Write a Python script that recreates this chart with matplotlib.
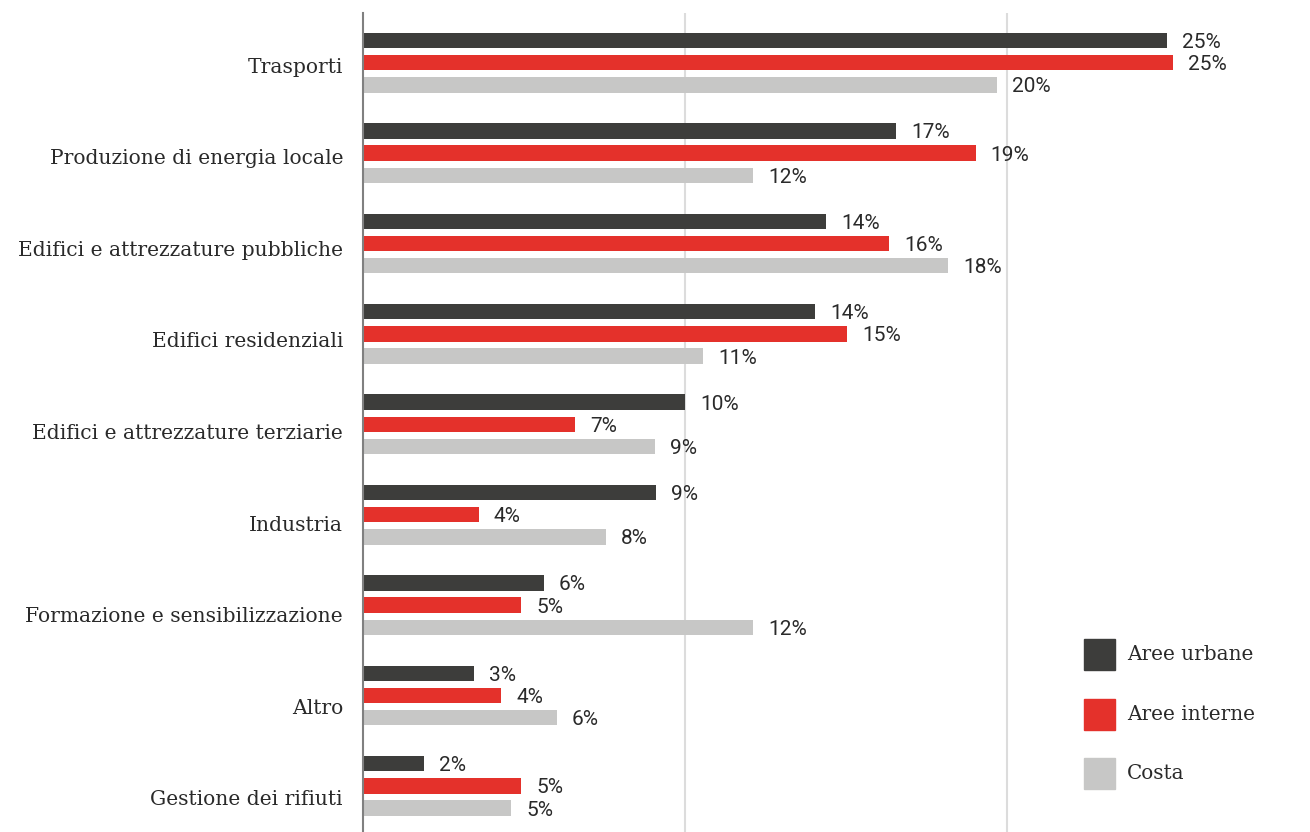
import matplotlib
matplotlib.use("Agg")
import matplotlib.pyplot as plt
from matplotlib.patches import Rectangle

# --- data -----------------------------------------------------------------
categories = [
    "Trasporti",
    "Produzione di energia locale",
    "Edifici e attrezzature pubbliche",
    "Edifici residenziali",
    "Edifici e attrezzature terziarie",
    "Industria",
    "Formazione e sensibilizzazione",
    "Altro",
    "Gestione dei rifiuti",
]
series_names = ["Aree urbane", "Aree interne", "Costa"]
aree_urbane = [24.98, 16.55, 14.38, 14.04, 10.0, 9.1, 5.62, 3.44, 1.9]
aree_interne = [25.16, 19.03, 16.34, 15.03, 6.58, 3.6, 4.91, 4.29, 4.91]
costa = [19.68, 12.11, 18.17, 10.56, 9.07, 7.55, 12.11, 6.02, 4.6]
series_values = [aree_urbane, aree_interne, costa]
series_colors = ["#3d3d3b", "#e4312b", "#c7c7c6"]
grid_ticks = [10, 20]

# --- layout ---------------------------------------------------------------
W, H = 1310, 832
ax_left_px, ax_top_px = 363, 13
px_per_unit = 32.2          # pixels per percentage point
group_px = 90.4             # vertical pitch between categories
bar_step = 22.2 / group_px  # pitch between bars within a group
bar_h = 15.5 / group_px

serif = ["DejaVu Serif"]
sans = ["Roboto", "DejaVu Sans"]
text_color = "#2a2a2a"

fig = plt.figure(figsize=(W / 100, H / 100), dpi=100)
ax = fig.add_axes([ax_left_px / W, 0, (W - ax_left_px) / W, (H - ax_top_px) / H])
ax.set_xlim(0, (W - ax_left_px) / px_per_unit)
ax.set_ylim(len(categories) - 1 + (H - 62.65 - 8 * group_px) / group_px,
            -(62.65 - ax_top_px) / group_px)

for s, (vals, color) in enumerate(zip(series_values, series_colors)):
    ys = [i + (s - 1) * bar_step for i in range(len(categories))]
    ax.barh(ys, vals, height=bar_h, color=color, zorder=3)
    for y, v in zip(ys, vals):
        ax.annotate(f"{v:.0f}%", xy=(v, y), xytext=(10.8, -1.5),
                    textcoords="offset points", va="center", ha="left",
                    fontsize=15, family=sans, color=text_color)

# category labels, right-aligned next to the axis line
for i, cat in enumerate(categories):
    ax.annotate(cat, xy=(0, i * 1.013 + 0.05), xytext=(-14.4, 0),
                textcoords="offset points", va="center", ha="right",
                fontsize=14.6, family=serif, color=text_color,
                annotation_clip=False)

ax.set_xticks(grid_ticks)
ax.set_yticks([])
ax.tick_params(axis="x", length=0, labelbottom=False)
ax.grid(axis="x", color="#dcdcdc", linewidth=1.5, zorder=0)
ax.set_axisbelow(True)
for side in ("top", "right", "bottom"):
    ax.spines[side].set_visible(False)
ax.spines["left"].set_color("#808080")
ax.spines["left"].set_linewidth(1.5)
ax.spines["left"].set_zorder(4)

# legend: colour squares with labels
sq = 31
for k, (name, color) in enumerate(zip(series_names, series_colors)):
    top = 639 + k * 59.5
    fig.add_artist(Rectangle((1084 / W, 1 - (top + sq) / H), sq / W, sq / H,
                             transform=fig.transFigure, color=color))
    fig.text(1127 / W, 1 - (top + sq / 2) / H, name, va="center", ha="left",
             fontsize=14.4, family=serif, color=text_color)

fig.savefig("out.png", dpi=100, facecolor="white")
